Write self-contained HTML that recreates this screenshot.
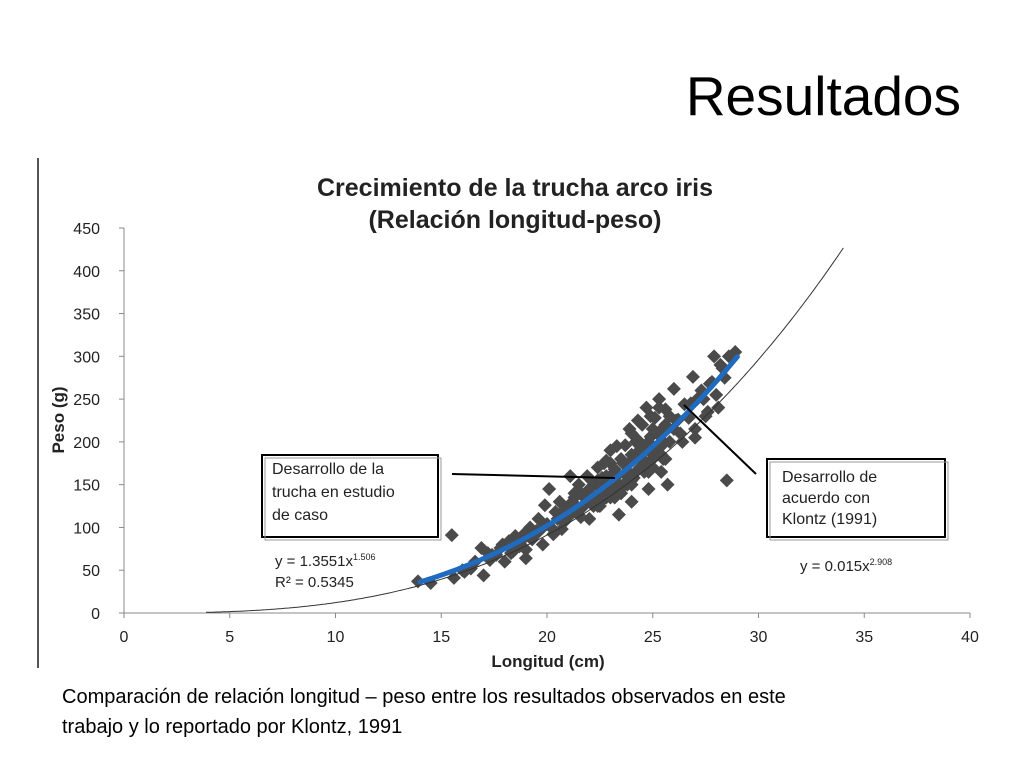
<!DOCTYPE html>
<html><head><meta charset="utf-8">
<style>
html,body{margin:0;padding:0;background:#fff;}
body{width:1024px;height:768px;position:relative;overflow:hidden;font-family:"Liberation Sans",Arial,sans-serif;}
.t{position:absolute;white-space:nowrap;}
</style></head>
<body>
<div class="t" style="right:63px;top:64px;font-size:55px;color:#000;">Resultados</div>
<div style="position:absolute;left:37px;top:158px;width:2px;height:510px;background:#555;"></div>
<svg id="chart" width="1024" height="768" style="position:absolute;left:0;top:0;">
<text x="515" y="196" text-anchor="middle" font-size="25" font-weight="bold" fill="#222">Crecimiento de la trucha arco iris</text>
<text x="515" y="228" text-anchor="middle" font-size="25" font-weight="bold" fill="#222">(Relación longitud-peso)</text>
<text x="0" y="0" transform="translate(64,420) rotate(-90)" text-anchor="middle" font-size="17" font-weight="bold" fill="#222">Peso (g)</text>
<text x="548" y="667" text-anchor="middle" font-size="17" font-weight="bold" fill="#222">Longitud (cm)</text>
<g id="axes"></g>
<g id="curves"></g>
<g id="points"></g>
<g id="notes">
<rect x="262" y="455" width="176" height="82" fill="#fff" stroke="#000" stroke-width="2"/>
<rect x="265" y="458" width="176" height="82" fill="none" stroke="#999" stroke-width="1"/>
<text font-size="16" fill="#222"><tspan x="272" y="474">Desarrollo de la</tspan><tspan x="272" y="497">trucha en estudio</tspan><tspan x="272" y="520">de caso</tspan></text>
<rect x="767" y="459" width="178" height="78" fill="#fff" stroke="#000" stroke-width="2"/>
<rect x="770" y="462" width="178" height="78" fill="none" stroke="#999" stroke-width="1"/>
<text font-size="16" fill="#222"><tspan x="782" y="482">Desarrollo  de</tspan><tspan x="782" y="503">acuerdo con</tspan><tspan x="782" y="524">Klontz (1991)</tspan></text>
<line x1="452" y1="474" x2="615" y2="478" stroke="#000" stroke-width="2"/>
<line x1="684" y1="405" x2="756" y2="474" stroke="#000" stroke-width="2"/>
<text x="275" y="566" font-size="15" fill="#222">y = 1.3551x<tspan font-size="9" dy="-6">1.506</tspan></text>
<text x="275" y="587" font-size="15" fill="#222">R² = 0.5345</text>
<text x="800" y="571" font-size="15" fill="#222">y = 0.015x<tspan font-size="9" dy="-6">2.908</tspan></text>
</g>
</svg>
<div class="t" style="left:62px;top:682px;font-size:20px;line-height:30px;color:#000;">Comparación de relación longitud – peso entre los resultados observados en este<br>trabajo y lo reportado por Klontz, 1991</div>
<script>
const xTicks=[0,5,10,15,20,25,30,35,40];
const yTicks=[0,50,100,150,200,250,300,350,400,450];
const lengths=[13.9,14.5,15.5,15.6,16.1,16.4,16.9,17.0,17.3,17.6,17.9,18.0,18.2,18.4,18.5,18.7,18.9,19.0,19.2,19.3,19.5,19.6,19.8,19.9,20.0,20.1,20.3,20.4,20.6,20.7,20.9,21.0,21.1,21.3,21.4,21.5,21.7,21.8,21.9,22.0,22.1,22.2,22.3,22.4,22.5,22.6,22.7,22.8,22.9,23.0,23.1,23.2,23.3,23.4,23.5,23.6,23.7,23.8,23.9,24.0,24.1,24.2,24.3,24.4,24.5,24.6,24.7,24.8,24.9,25.0,25.1,25.2,25.3,25.4,25.5,25.6,25.8,26.0,26.2,26.3,26.5,26.7,26.9,27.1,27.3,27.5,27.7,27.9,28.1,28.3,28.5,28.6,28.9,23.5,24.2,25.0,25.4,23.0,22.5,21.5,20.5,24.6,25.7,26.1,27.0,27.8,28.2,19.0,18.3,24.0,24.8,25.2,23.8,22.8,
21.2,21.6,22.0,22.4,22.8,23.2,23.6,24.0,24.4,24.8,25.2,25.6,21.0,21.8,22.6,23.4,24.2,25.0,25.8,22.2,23.0,23.8,24.6,25.4,20.8,21.4,22.2,23.0,23.8,24.6,25.4,26.0,24.0,24.5,25.0,25.5,23.5,22.5,20.2,19.6,19.2,18.6,17.8,17.2,16.6,16.0,20.8,21.6,22.4,23.2,24.0,24.8,25.6,26.4,27.0,27.6,28.0,28.4,26.8,27.4,24.3,24.9,25.3,23.9,23.3,22.7,22.1,21.3,20.6,19.8,18.8,17.4];
const weights=[37,35,91,41,48,52,76,44,62,68,80,60,84,72,90,78,92,74,100,86,96,110,80,126,104,145,92,118,130,98,122,112,160,140,118,150,124,134,160,110,138,150,128,170,146,158,134,178,150,190,142,168,160,115,180,148,196,166,176,210,158,186,202,170,220,178,240,196,206,170,228,190,250,214,180,238,230,262,226,210,244,228,276,250,260,230,268,300,240,286,155,300,305,140,200,215,165,175,125,120,110,190,150,225,205,270,290,64,70,130,145,185,155,135,
130,140,145,155,160,165,175,185,195,200,210,220,120,128,140,150,165,180,200,125,135,150,165,185,112,118,130,145,160,175,195,215,155,170,185,200,140,135,100,95,88,82,76,70,60,50,106,112,125,135,150,165,180,200,215,235,255,275,245,250,225,230,240,215,195,175,155,135,115,100,85,68];
const studyFit=[0.0172,2.9];
const klontzFit=[0.015,2.908];
const X=v=>124+v*21.15, Y=v=>613-v*0.8556;
const NS='http://www.w3.org/2000/svg';
function mk(tag,attrs,parent){const e=document.createElementNS(NS,tag);for(const k in attrs)e.setAttribute(k,attrs[k]);parent.appendChild(e);return e;}
const ax=document.getElementById('axes');
let l=mk('line',{x1:X(0),y1:Y(0),x2:X(40),y2:Y(0),stroke:'#888','stroke-width':1},ax);


l=mk('line',{x1:X(0),y1:Y(0),x2:X(0),y2:Y(450),stroke:'#888','stroke-width':1},ax);


xTicks.forEach(t=>{mk('line',{x1:X(t),y1:Y(0),x2:X(t),y2:Y(0)+5,stroke:'#888'},ax);
 const tx=mk('text',{x:X(t),y:642,'text-anchor':'middle','font-size':16,fill:'#222'},ax);tx.textContent=t;
 
 });
yTicks.forEach(t=>{mk('line',{x1:X(0)-5,y1:Y(t),x2:X(0),y2:Y(t),stroke:'#888'},ax);
 const tx=mk('text',{x:X(0)-24,y:Y(t)+6,'text-anchor':'end','font-size':16,fill:'#222'},ax);tx.textContent=t;
 
 });
const cg=document.getElementById('curves');
function curve(p,a,b,w,c,name){let d='';for(let x=a;x<=b+1e-9;x+=0.1){d+=(d?'L':'M')+X(x).toFixed(1)+','+Y(p[0]*Math.pow(x,p[1])).toFixed(1);}
 const e=mk('path',{d:d,fill:'none',stroke:c,'stroke-width':w,'stroke-linecap':'round'},cg);
 
 }
const pg=document.getElementById('points');
lengths.forEach((v,i)=>{const cx=X(v),cy=Y(weights[i]);
 const p=mk('polygon',{points:`${cx},${cy-7} ${cx+7},${cy} ${cx},${cy+7} ${cx-7},${cy}`,fill:'#4a4a4a'},pg);
 
 });
curve(klontzFit,3.9,34,1,'#333','klontz-curve');
curve(studyFit,14,29,5,'#1f6bc0','study-trend-line');
document.getElementById('chart').appendChild(document.getElementById('curves'));
document.getElementById('chart').appendChild(document.getElementById('notes'));
</script>
</body></html>
